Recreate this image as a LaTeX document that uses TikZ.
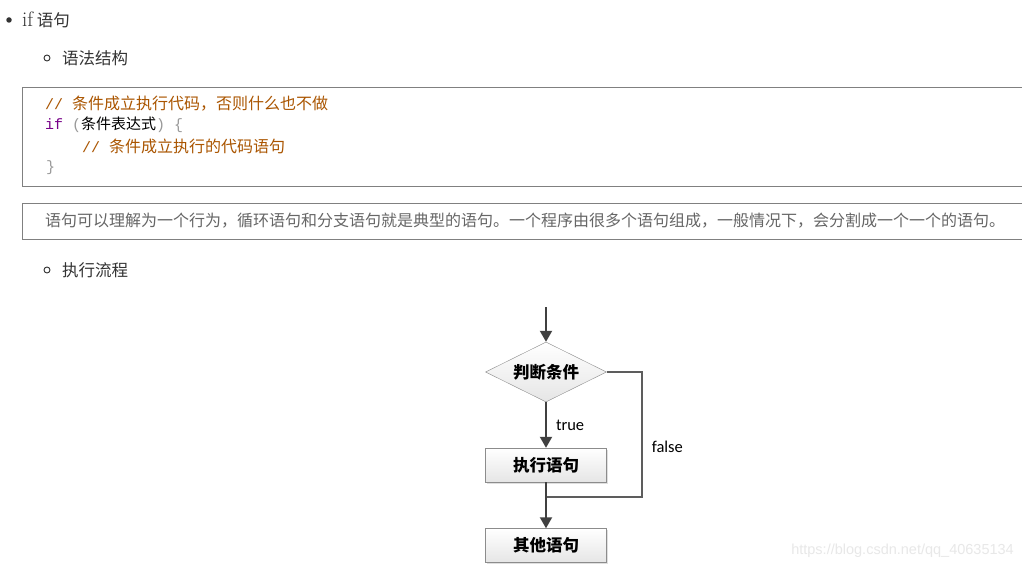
\documentclass[tikz,border=0pt]{standalone}
\usepackage{fontspec}
\newfontfamily\cjk{Noto Sans CJK SC}
\newfontfamily\codefont{Liberation Mono}
\newfontfamily\lblfont{Carlito}
\newfontfamily\wmfont{Liberation Sans}
\usetikzlibrary{shapes.geometric, arrows.meta, shadows}

\definecolor{pagetext}{HTML}{333333}
\definecolor{notetext}{HTML}{666666}
\definecolor{comment}{HTML}{AA5500}
\definecolor{keyword}{HTML}{770088}
\definecolor{bracket}{HTML}{999999}
\definecolor{boxline}{HTML}{808080}
\definecolor{flowline}{HTML}{404040}
\definecolor{nodeline}{HTML}{8C8C8C}
\definecolor{watermark}{HTML}{E8E8E8}

\tikzset{
  pagelabel/.style={anchor=west, inner sep=0pt, text=pagetext, font=\cjk\fontsize{16.5}{18}\selectfont},
  codeline/.style={anchor=west, inner sep=0pt, font=\codefont\fontsize{15}{18}\selectfont},
  flowbox/.style={draw=nodeline, rectangle, top color=white, bottom color=gray!20, minimum width=121pt, minimum height=34pt, inner sep=0pt, font=\cjk\bfseries\fontsize{16.5}{16.5}\selectfont, drop shadow={opacity=0.25, shadow xshift=1.5pt, shadow yshift=-1.5pt}},
  decision/.style={draw=nodeline, diamond, aspect=2, top color=white, bottom color=gray!20, minimum width=121pt, minimum height=60pt, inner sep=0pt, font=\cjk\bfseries\fontsize{16.5}{16.5}\selectfont},
  arrowline/.style={draw=flowline, line width=2pt, -{Triangle[width=12pt,length=11pt]}},
  falseline/.style={draw=flowline!85, line width=1.6pt},
  flowlabel/.style={inner sep=0pt, text=black, font=\lblfont\fontsize{16.5}{16.5}\selectfont}
}

\begin{document}
\begin{tikzpicture}[x=1pt, y=-1pt]
    \useasboundingbox (0,0) rectangle (1022,569);
    \fill[white] (0,0) rectangle (1022,569);

    % Bullets and headings
    \node[circle, fill=pagetext, inner sep=0pt, minimum size=5.5pt] (dot1) at (9,20) {};
    \node[pagelabel] (title) at (22,20) {{\rmfamily\fontsize{21}{21}\selectfont if} 语句};
    \node[circle, draw=pagetext, line width=0.9pt, inner sep=0pt, minimum size=6pt] (dot2) at (47,58) {};
    \node[pagelabel] (syntax) at (62,58) {语法结构};

    % Code box
    \draw[boxline, line width=1pt] (1030,88) -- (22,88) -- (22,187) -- (1030,187);
    \node[codeline, text=comment] (code1) at (45,104) {//\ {\cjk\fontsize{16}{18}\selectfont 条件成立执行代码，否则什么也不做}};
    \node[codeline] (code2) at (45,125) {{\color{keyword}if}\ {\color{bracket}(}{\cjk\fontsize{15}{18}\selectfont 条件表达式}{\color{bracket})\ \{}};
    \node[codeline, text=comment] (code3) at (82,146) {//\ {\cjk\fontsize{16}{18}\selectfont 条件成立执行的代码语句}};
    \node[codeline, text=bracket] (code4) at (46,168) {\}};

    % Note box
    \draw[boxline, line width=1pt] (1030,204) -- (22,204) -- (22,240) -- (1030,240);
    \node[anchor=west, inner sep=0pt, text=notetext, font=\cjk\fontsize{16}{18}\selectfont] (note) at (45,221) {语句可以理解为一个行为，循环语句和分支语句就是典型的语句。一个程序由很多个语句组成，一般情况下，会分割成一个一个的语句。};

    \node[circle, draw=pagetext, line width=0.9pt, inner sep=0pt, minimum size=6pt] (dot3) at (47,270) {};
    \node[pagelabel] (flow) at (62,270) {执行流程};

    % Flowchart nodes
    \coordinate (entry) at (546,307);
    \node[decision] (cond) at (546,372) {判断条件};
    \node[flowbox] (exec) at (546,465) {执行语句};
    \node[flowbox] (other) at (546,545.5) {其他语句};
    \coordinate (bend) at (642,497);
    \coordinate (merge) at (546,497);

    % Arrows
    \draw[arrowline] (entry) -- (cond.north);
    \draw[arrowline] (cond.south) -- node[flowlabel, midway, right=9pt] (truelbl) {true} (exec.north);
    \draw[falseline] (cond.east) -| node[flowlabel, pos=0.8, right=9pt] (falselbl) {false} (bend) -- (merge);
    \draw[arrowline] (exec.south) -- (other.north);

    % Watermark
    \node[anchor=east, inner sep=0pt, text=watermark, font=\wmfont\fontsize{14.5}{15}\selectfont] (mark) at (1014,551) {https://blog.csdn.net/qq\_40635134};
\end{tikzpicture}
\end{document}
